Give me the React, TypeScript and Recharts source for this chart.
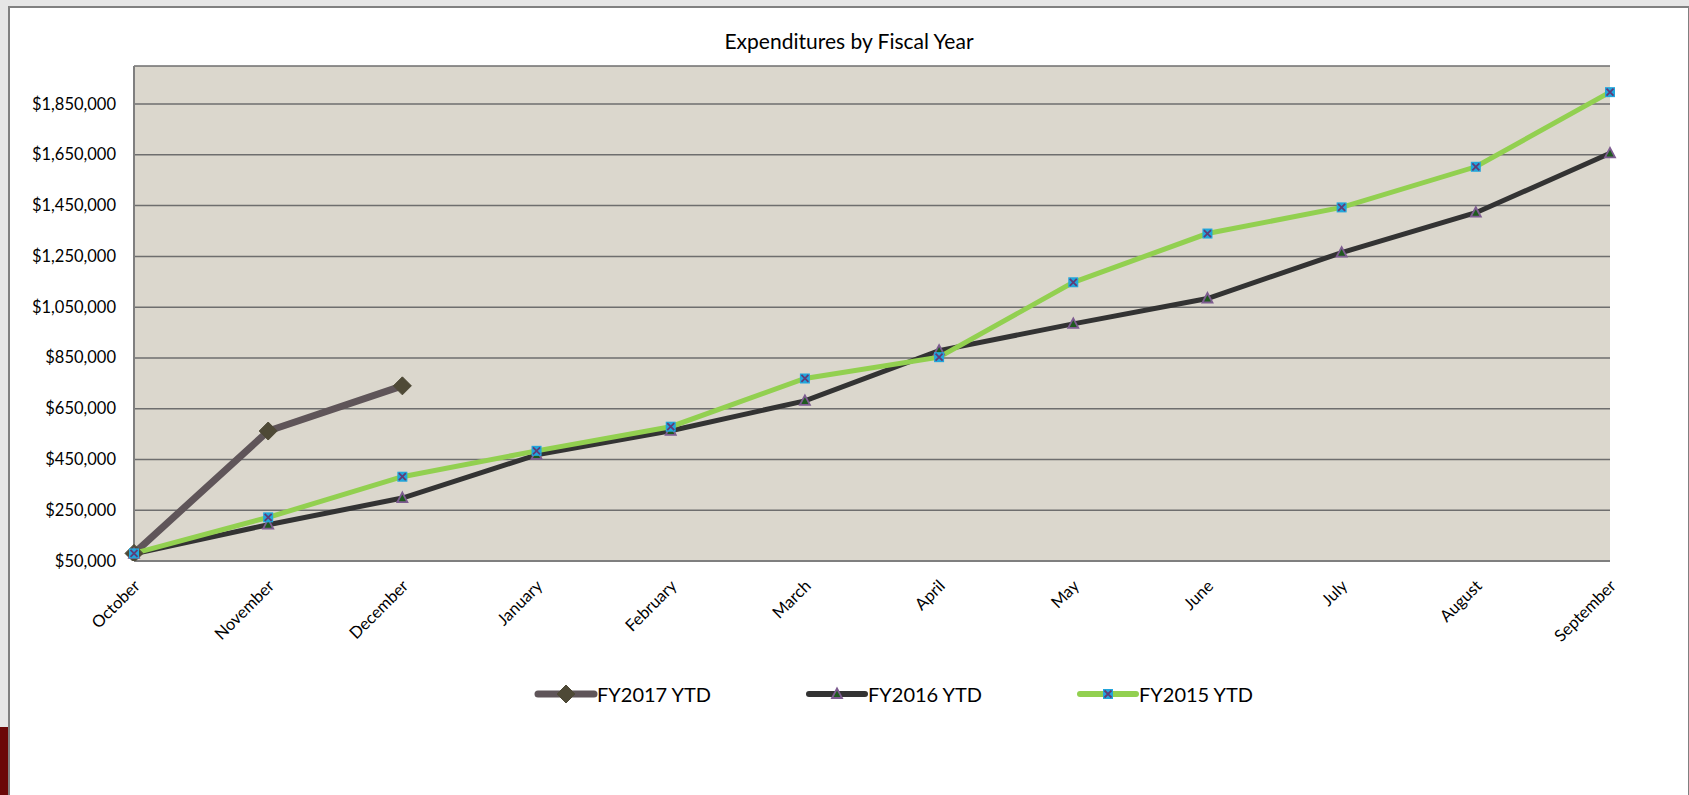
import React from 'react'
import { LineChart, Line, XAxis, YAxis, CartesianGrid } from 'recharts'

const months = [
  'October', 'November', 'December', 'January', 'February', 'March',
  'April', 'May', 'June', 'July', 'August', 'September'
]

const fy2017 = [80000, 562000, 740000]
const fy2016 = [78000, 193000, 298000, 468000, 563000, 681000, 879000, 984000, 1084000, 1265000, 1422000, 1656000]
const fy2015 = [80000, 222000, 382000, 484000, 579000, 769000, 853000, 1148000, 1340000, 1443000, 1603000, 1897000]

const yTicks = [50000, 250000, 450000, 650000, 850000, 1050000, 1250000, 1450000, 1650000, 1850000]

const seriesNames = ['FY2017 YTD', 'FY2016 YTD', 'FY2015 YTD']

const data = months.map((month, i) => ({
  month,
  fy2017: i < fy2017.length ? fy2017[i] : null,
  fy2016: fy2016[i],
  fy2015: fy2015[i]
}))

const FONT = 'Lato, "Open Sans", sans-serif'

const formatMoney = (v: number) => '$' + v.toLocaleString('en-US')

// marker shapes, used by the lines and the legend
const Diamond = ({ cx, cy }: { cx: number; cy: number }) => (
  <path
    d={`M${cx},${cy - 9} L${cx + 9},${cy} L${cx},${cy + 9} L${cx - 9},${cy} Z`}
    fill="#4e4936"
    stroke="#4e4936"
    strokeWidth={1}
  />
)

const Triangle = ({ cx, cy }: { cx: number; cy: number }) => (
  <path
    d={`M${cx},${cy - 5.5} L${cx + 5},${cy + 4} L${cx - 5},${cy + 4} Z`}
    fill="#1f5a1f"
    stroke="#7d5c90"
    strokeWidth={1.8}
  />
)

const CrossSquare = ({ cx, cy }: { cx: number; cy: number }) => (
  <g>
    <rect x={cx - 5} y={cy - 5} width={10} height={10} fill="#22a6dc" />
    <path
      d={`M${cx - 3.5},${cy - 3.5} L${cx + 3.5},${cy + 3.5} M${cx + 3.5},${cy - 3.5} L${cx - 3.5},${cy + 3.5}`}
      stroke="#5e3c78"
      strokeWidth={1.8}
    />
  </g>
)

const makeDot = (Shape: React.FC<{ cx: number; cy: number }>) => (props: any) => {
  const { cx, cy, value, index } = props
  if (value === null || value === undefined || cx == null || cy == null) {
    return <g key={`e-${index}`} />
  }
  return (
    <g key={`d-${index}`}>
      <Shape cx={cx} cy={cy} />
    </g>
  )
}

const YTick = ({ x, y, payload }: any) => (
  <text x={x} y={y} dy={5.5} textAnchor="end" fontSize={16.5} fontFamily={FONT} fill="#000">
    {formatMoney(payload.value)}
  </text>
)

const XTick = ({ x, y, payload }: any) => (
  <text
    transform={`translate(${x + 7},${y + 26}) rotate(-45)`}
    textAnchor="end"
    fontSize={16.5}
    fontFamily={FONT}
    fill="#000"
  >
    {payload.value}
  </text>
)

const legendItems = [
  { name: seriesNames[0], color: '#5f5559', width: 7, Shape: Diamond },
  { name: seriesNames[1], color: '#333333', width: 6, Shape: Triangle },
  { name: seriesNames[2], color: '#92d050', width: 6, Shape: CrossSquare }
]

const Legend = () => (
  <svg width={1689} height={40} style={{ position: 'absolute', left: 0, top: 674 }}>
    {legendItems.map((item, i) => {
      const x0 = 538 + i * 271
      return (
        <g key={item.name}>
          <line x1={x0} x2={x0 + 56} y1={20} y2={20} stroke={item.color} strokeWidth={item.width} strokeLinecap="round" />
          <item.Shape cx={x0 + 28} cy={20} />
          <text x={x0 + 59} y={27.5} fontSize={20} fontFamily={FONT} fill="#000">
            {item.name}
          </text>
        </g>
      )
    })}
  </svg>
)

export default function App() {
  return (
    <div
      style={{
        position: 'absolute',
        left: 0,
        top: 0,
        width: 1689,
        height: 795,
        overflow: 'hidden',
        background: '#e6e6e6'
      }}
    >
      <div style={{ position: 'absolute', left: 0, top: 727, width: 8, height: 68, background: '#6b0808' }} />
      <div
        style={{
          position: 'absolute',
          left: 8,
          top: 6,
          width: 1678,
          height: 820,
          background: '#ffffff',
          border: '2px solid #808080'
        }}
      />
      <div
        style={{
          position: 'absolute',
          left: 8,
          top: 30,
          width: 1682,
          textAlign: 'center',
          fontFamily: FONT,
          fontSize: 21,
          lineHeight: '22px',
          color: '#000'
        }}
      >
        Expenditures by Fiscal Year
      </div>
      <div style={{ position: 'absolute', left: 0, top: 0 }}>
        <LineChart
          width={1689}
          height={795}
          data={data}
          margin={{ top: 66, right: 79, bottom: 204, left: 4 }}
        >
          <CartesianGrid
            vertical={false}
            stroke="#6e6e6e"
            strokeWidth={1.5}
            fill="#dbd7cd"
            fillOpacity={1}
          />
          <XAxis
            dataKey="month"
            height={30}
            axisLine={{ stroke: '#7f7f7f', strokeWidth: 2 }}
            tickLine={false}
            tickSize={0}
            tickMargin={0}
            interval={0}
            tick={<XTick />}
          />
          <YAxis
            width={130}
            domain={[50000, 2000000]}
            ticks={yTicks}
            allowDataOverflow
            axisLine={{ stroke: '#7f7f7f', strokeWidth: 2 }}
            tickLine={false}
            tickSize={0}
            tickMargin={18}
            tick={<YTick />}
          />
          <Line
            dataKey="fy2017"
            name={seriesNames[0]}
            stroke="#5f5559"
            strokeWidth={7}
            dot={makeDot(Diamond)}
            activeDot={false}
            isAnimationActive={false}
          />
          <Line
            dataKey="fy2016"
            name={seriesNames[1]}
            stroke="#333333"
            strokeWidth={5}
            dot={makeDot(Triangle)}
            activeDot={false}
            isAnimationActive={false}
          />
          <Line
            dataKey="fy2015"
            name={seriesNames[2]}
            stroke="#92d050"
            strokeWidth={5}
            dot={makeDot(CrossSquare)}
            activeDot={false}
            isAnimationActive={false}
          />
        </LineChart>
      </div>
      <Legend />
    </div>
  )
}
